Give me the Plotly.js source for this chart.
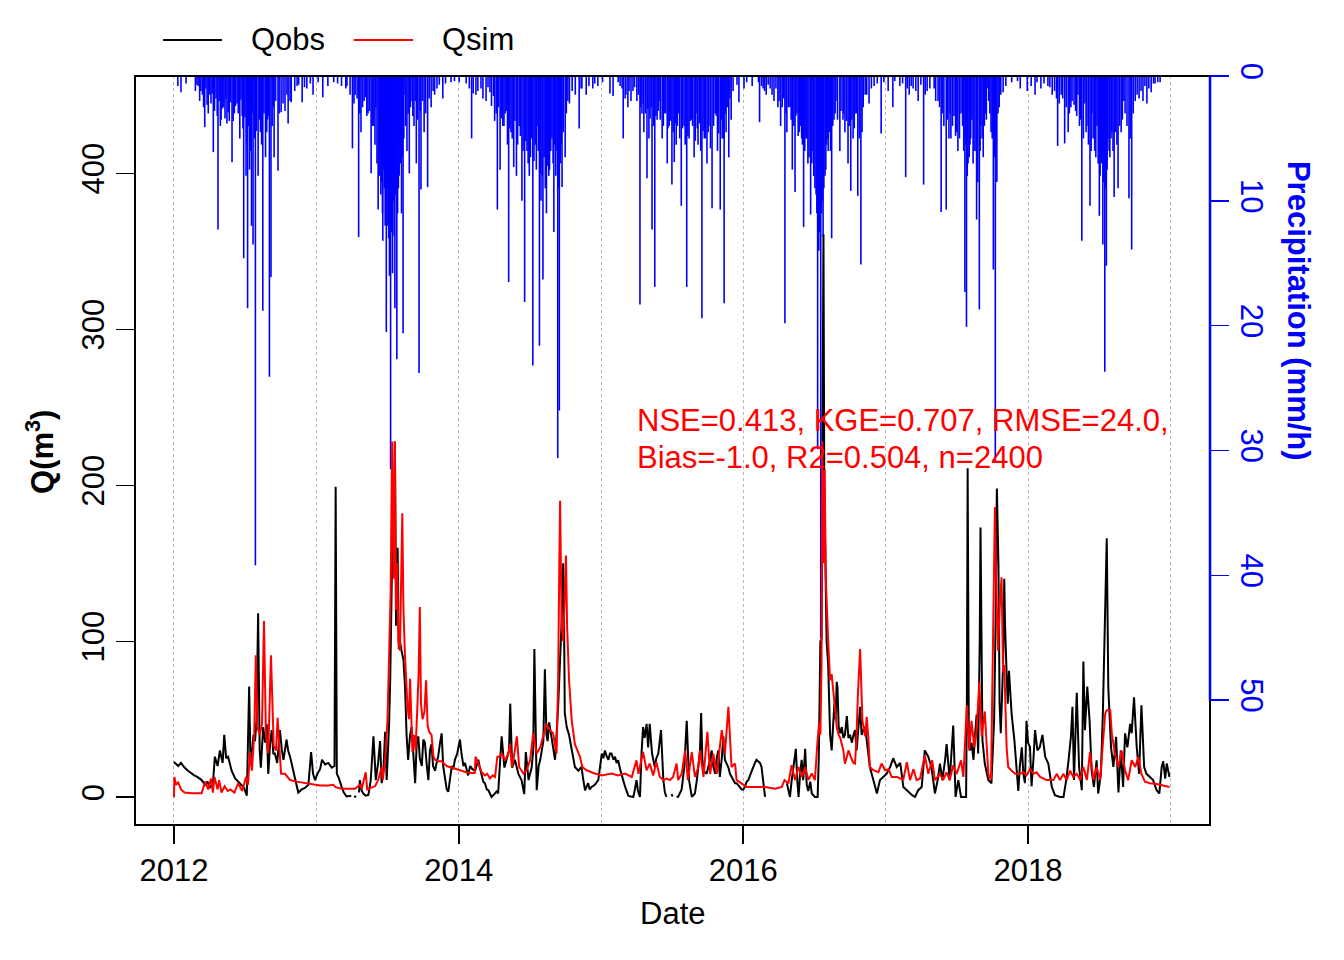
<!DOCTYPE html>
<html><head><meta charset="utf-8">
<script src="https://cdn.plot.ly/plotly-3.0.1.min.js"></script>
<style>html,body{margin:0;padding:0;background:#fff}#plot{width:1344px;height:960px}</style>
</head><body><div id="plot"></div>
<script>
// Day offsets counted from 2012-01-01 (null = gap in record)
const obsDay = [0,6,11,18,27,36,45,52,60,66,71,80,86,92,100,105,112,118,125,129,134,139,144,148,157,165,174,180,187,193,196,199,204,208,212,216,220,223,229,234,238,242,247,251,255,259,265,272,277,281,289,293,298,306,312,319,328,336,345,352,357,362,368,375,
380,388,396,405,412,415,418,422,430,436,443,450,455,null,462,468,null,475,477,482,486,492,499,505,512,518,524,529,533,538,542,546,552,555,558,561,564,567,570,574,577,580,584,589,593,597,601,606,610,615,619,623,627,631,636,640,644,649,653,657,661,665,670,674,678,683,687,691,696,700,704,709,713,717,721,727,734,738,743,747,751,755,760,766,773,777,781,786,790,794,798,803,807,811,815,822,828,
832,841,848,854,860,863,868,875,884,892,899,903,910,918,922,925,928,931,936,940,948,952,956,959,963,969,975,978,986,991,995,999,1001,1003,1008,1014,1021,1029,1038,1046,1050,1055,1063,1067,1072,1080,1089,1094,1098,1102,1106,1111,1115,1119,1123,1128,1132,1136,1140,1145,1149,1154,1158,1162,1166,1172,1179,1183,1187,1191,1196,1200,1204,1208,1213,1217,1221,1227,1234,1238,1243,1250,1253,1256,1260,1264,null,1277,1280,null,1290,1294,
1303,1310,1316,1319,1322,1329,1337,1342,1346,1350,1353,1356,1359,1367,1372,1376,1380,1384,1389,1393,1397,1401,1406,1410,1414,1418,1423,1427,1431,1436,1440,1444,1450,1457,1461,1465,1470,1474,1480,1487,1491,1495,1500,1504,1508,1512,1515,1517,null,1573,1577,1581,1585,1590,1594,1596,1600,1603,1607,1611,1615,1620,1624,1628,1633,1637,1645,1652,1655,1657,1659,1662,1665,1667,1669,1672,1675,1679,1684,1688,1692,1695,1698,1701,1703,1706,1710,1714,1718,1722,1727,1731,1735,1740,1744,
1748,1752,1757,1761,1765,1769,1774,1778,1782,1786,1795,1800,1804,1812,1821,1829,1838,1846,1855,1864,1872,1881,1889,1896,1902,1910,1919,1927,1936,1944,1953,1960,1966,1972,1979,1983,1991,2000,2006,2013,2020,2026,2033,2035,2037,2040,2043,2047,2052,2056,2060,2064,2068,2070,2073,2075,2081,2090,2098,2105,2109,2112,2116,2119,2122,2128,2131,2133,2137,2140,2143,2150,2157,2163,2167,2171,2176,2180,2184,2188,2192,2197,2201,2206,2210,2216,2222,
2229,2236,2244,2253,2261,2274,2283,2290,2296,2302,2306,2310,2317,2323,2330,2334,2338,2344,2350,2355,2361,2368,2372,2379,2384,2388,2392,2394,2398,2405,2411,2418,2424,2430,2436,2441,2447,2454,2458,2464,2471,2477,2483,2490,2496,2505,2513,2522,2529,2535,2539,2544,2548,2555];
const obsQ = [22.6,21,20,22,19,17,15,14,13,12,11,8,10,6,9,26,20,30,22,40,25,26,20,17,12,10,8,6,1,71,28,25,40,36,50,118,30,19,45,35,47,15,35,43,28,28,22,43,30,24,37,30,26,17,10,3,5,6,8,29,15,11,15,18,
24,21,22,19,20,199,15,13,7,3,0.5,1,1,null,0.3,0.5,null,3,11,4,2.4,1,1.5,11,39,11,22,36,9,20,42,11,46,75,130,171,150,228,110,160,95,100,94,88,71,40,24,40,45,20,9,35,39,25,20,37,35,20,11,30,34,20,17,22,26,35,41,20,13,5,3.5,12,20,18,24,28,37,28,20,22,17,14,20,18,17,20,24,18,13,10,9,5,4.5,2,0.2,2,3.7,
2.4,39,19,24,30,60,19,24,15,11,2,29,11,19,30,95,30,4.5,20,24,36,82,40,36,48,39,30,24,58,86,113,150,120,54,45,40,30,19.4,17,19.4,12,4.5,9,5,6.6,8,11,20,28,25,30,26,24,28,28,24,26,22,23.7,18,15,10,6.6,3,1,0.5,0.2,5,11,4,0.2,28,45,38,47,32,47,28,19.4,25,28,43,20,11,3,0.2,null,2,0.5,null,0.5,0.2,
5,20,49,25,11,0.2,2.4,11,20,30,54,25,17,15,20,24,30,20,15,25,30,13,25,39,24,22,19,15,13,10,9,9,7,5,5,6.6,10,11,15,20,22,24,23,22,19.4,11,4,0.2,null,9,5,0.2,10,19,25,31,10,0.2,15,24,11,31,8,4,10,2.4,0.2,0.2,26,60,100,101,250,361,200,150,100,85,40,30,50,60,50,74,70,45,41,45,38,40,52,38,40,35,40,
43,30,45,58,40,43,45,36.5,30,19.4,11,6,2.4,11,13,15,19.4,25,19.4,22,6.6,4.5,2.4,1,0.2,4.5,6.6,30,26,19.4,2.4,11,21.6,11,23.7,34,11,46,0.2,11,0.2,0,0.2,60,211,40,30,35,24,40,53,28,100,173,70,36.5,21.6,11,9,50,117,198,150,60,41,85,140,110,79,60,81,53,36.5,17,4,20,32,15,9,49,35,32,7,25,43,30,32,
40,25.9,21.6,6.6,1.3,0.2,0.2,11,23.7,38.7,58,11,67,19.4,4.5,87,43,71,49,17.3,6.6,23.7,2.4,15,53.6,107,140,166,70,32,19.4,38.7,3,30,6.6,41,32,47,41,64,32,15,59,19.4,15,13,11,4.5,2.4,19.4,23,12,21.6,13];

const simDay = [0,1,5,11,18,27,45,71,80,88,95,100,104,112,116,122,130,138,145,155,165,175,185,190,195,200,206,210,214,220,226,231,236,242,249,256,262,266,270,275,285,298,315,340,360,375,396,409,415,430,450,465,477,482,492,496,505,516,524,533,536,542,548,552,556,560,564,567,570,573,576,580,584,586,589,593,599,603,606,608,612,616,620,625,628,631,634,638,643,647,651,655,661,666,670,678,687,700,713,721,734,750,765,772,774,781,790,798,804,811,818,824,830,835,841,850,858,863,867,871,880,886,897,905,914,922,931,940,948,956,965,973,982,986,989,991,995,999,1003,1006,1009,1014,1021,1029,1042,1048,1059,1080,1098,1123,1140,1158,1175,1187,1192,1204,1213,1221,1230,1238,1247,1256,1264,1273,1281,1290,1294,1303,1312,1319,1329,1337,1346,1350,1359,1369,1376,1384,1393,1406,1414,1423,1431,1440,1444,1457,1470,1491,1517,1543,1560,1567,1577,1585,1594,1603,1611,1620,1628,1637,1645,1652,1656,1659,1662,1664,1667,1670,1673,1679,1684,1688,1695,1701,1706,1710,1718,1722,1727,1731,1740,1744,1748,1752,1755,1758,1761,1767,1774,1778,1782,1786,1795,1808,1816,1825,1834,1842,1855,1864,1872,1881,1889,1898,1906,1915,1927,1936,1946,1953,1966,1974,1983,1991,2000,2009,2020,2026,2035,2041,2047,2054,2060,2067,2073,2081,2090,2097,2100,2104,2107,2111,2115,2119,2124,2128,2131,2137,2141,2150,2159,2171,2180,2188,2197,2206,2214,2223,2240,2257,2266,2274,2283,2291,2300,2308,2317,2326,2334,2343,2351,2360,2368,2377,2385,2390,2394,2403,2407,2415,2424,2432,2441,2449,2458,2467,2475,2483,2492,2505,2522,2539,2555];
const simQ = [0,13,8,9.5,5,3,2.5,2.5,10,5,12,3,13,5,11,3,7,4,5,3,9,4,13,8,29,17,40,91,45,40,47,113,40,28,91,33,30,51,34,15,15,11,10,9,8,7.5,7.5,8,6.5,5.5,5.5,5.5,8,5.5,16,5,6,7,11,19.4,11,23.7,49,95,130,228,140,228,120,150,100,94,140,182,120,90,60,50,76,55,29,40,30,60,80,122,60,50,55,75,46,42,40,26,24,23,23,20,19,18,17.5,16,15.6,15.6,26,21.6,16,14,15,12,14,13,26,26,28,23.7,28,34,19.4,23.7,39,19.4,15.2,17.3,23.7,41,28,32,39,47,43,41,28,75,150,190,110,100,130,155,110,75,49,34,26,19.4,17.3,15.2,14,15.2,14,15.2,13,23.7,15,29,17.3,21.6,14,22.5,13,11,12,11,13,21.6,11,15,30,11,29,13,19.4,30,13,42,15,28,15,43,28,58,19.4,21.6,11,8.8,6.6,6.6,6.6,5.5,6.6,11,8.8,20.5,11,19.4,13,19.4,11,15.2,11,37,48,40,85,228,150,210,140,100,75,79,58,45,40,38,30,21.5,26,30,24,22,21.6,40,64,80,95,49,39,51.5,38.7,19.4,17.3,16,21.6,17.3,18,13,13,12,11.5,22.5,11,18,11,12,27,15,23.7,11,15,11,16,11,20.5,15,23.7,13,59,30,49,32,43,74,39,55,15,11,70,120,186,130,94,120,141,80,85,32,19.4,17,15,15,16,14,18,15,16,13,11,11,15,11,15,11,17,13,15,11,19.4,11,29,11,19.4,11,40.8,53.6,55.8,55.8,40.8,28,19.4,30,17.3,11,23.7,19.4,25.9,15,10,9,8.5,7.5,6.6];

// Precipitation (mm/h): main visible bars
const rainDay = [10,18,31,59,69,79,85,92,101,108,113,121,128,136,142,149,155,162,169,175,179,185,189,194,199,203,209,216,222,228,235,240,245,249,257,267,275,285,293,301,316,329,341,357,382,
430,441,458,465,474,480,488,498,506,513,518,524,529,533,536,540,545,549,553,556,561,567,572,576,580,584,588,593,598,604,611,616,622,629,634,642,651,660,669,690,711,732,
764,775,788,801,811,823,830,837,844,850,859,865,872,879,886,893,900,906,912,921,927,932,938,942,947,956,964,970,975,980,985,989,992,996,1004,1011,1022,1040,1047,1058,1075,1088,1119,1127,
1145,1153,1160,1165,1173,1178,1196,1201,1206,1214,1219,1227,1234,1240,1245,1253,1258,1266,1271,1278,1284,1289,1294,1302,1309,1316,1322,1328,1335,1340,1345,1355,1361,1368,1373,1381,1389,1395,1402,1407,1412,1417,1424,1430,1450,1463,1484,
1503,1512,1520,1530,1540,1550,1557,1568,1573,1581,1587,1594,1599,1605,1611,1616,1622,1627,1634,1640,1645,1652,1655,1660,1666,1671,1675,1679,1688,1694,1699,1709,1717,1722,1730,1737,1743,1748,1755,1763,1766,1774,1784,1797,1815,1833,1845,
1863,1878,1887,1897,1910,1924,1933,1951,1961,1969,1982,1989,1994,2006,2012,2020,2030,2034,2038,2043,2048,2053,2060,2067,2071,2077,2082,2087,2091,2097,2103,2108,2112,2118,2128,2172,2190,
2200,2210,2225,2243,2254,2268,2277,2286,2295,2302,2310,2320,2330,2338,2343,2351,2356,2363,2369,2375,2379,2384,2389,2393,2397,2402,2407,2413,2423,2431,2438,2451,2458,2467,2477,2487,2497,2508,2518,2531];
const rainMm = [0.8,1.3,0.6,0.7,1.2,4.1,2.3,1.5,6.1,1.8,12.3,3.5,2.5,3.8,3.6,6.9,3.0,2.2,5.0,3.2,14.6,8.0,18.6,7.5,12,13.5,39.2,8,4.5,18.8,6.5,3.5,24.1,16.1,6.5,7.6,2.9,2.8,3.8,2.1,0.8,2.1,1.0,1.5,1.7,
0.8,1.0,5.8,1.5,12.9,4.5,2.0,3.0,7.8,4.0,2.5,10.7,6.0,8.5,13.2,9.0,20.5,12.0,16.0,31.5,15.8,18.6,22.7,9.0,5.0,11.0,20.6,1.5,6.0,7.8,2.0,4.0,7.0,23.8,9.1,4.5,8.9,2.5,1.5,1.8,0.5,0.5,
5.0,1.5,1.0,2.0,1.3,3.6,10.7,7.5,4.0,3.0,16.5,4.5,7.3,8.0,4.0,10.0,18.1,6.0,8.0,23.2,5.5,4.0,21.6,10,16.3,11,7.5,5.0,12.5,8.0,30.6,26.8,7,8.9,6.5,2.0,1.2,4.2,1.0,1.5,1.0,0.8,1.4,1.6,
0.8,5.0,1.5,2.5,2.0,1.2,18.3,3.0,4.5,8.2,5.0,12.3,16.9,3.5,2.0,5.0,3.0,7.0,4.0,8.7,6.9,5.5,3.0,10.4,4.0,16.9,5.0,3.5,6.5,3.0,5.5,19.4,5.0,7.0,4.0,10.6,3.0,6.0,10.7,5.0,18.2,4.5,6.5,3.5,2.1,1.0,0.8,
3.7,1.0,1.5,1.0,2.0,2.5,4.0,19.8,4.5,2.5,7.5,9.3,3.0,4.5,5.0,12.1,5.0,7.0,11.1,6.0,9.0,29.9,14.0,45.0,12.9,8.0,5.5,6.0,13.0,3.5,2.0,6.0,3.5,4.5,7.0,9.2,5.0,3.0,9.6,15.1,4.5,1.5,2.2,0.8,4.6,1.2,2.5,
0.8,8.1,1.5,1.0,2.0,8.7,1.2,1.0,2.0,10.9,10.7,5.0,5.0,4.8,6.0,3.0,17.3,20.1,7.0,5.5,3.5,6.0,11.5,18.7,4.0,6.5,3.0,1.0,2.0,4.5,15.5,31.0,8.5,2.5,1.3,1.0,1.2,
0.8,1.5,1.0,0.8,1.5,5.6,1.5,5.4,4.5,2.5,2.3,1.5,13.2,2.2,4.0,10.4,3.0,6.0,4.0,11.2,6.5,13.5,23.7,15.2,5.0,6.5,4.5,9.7,9.0,4.5,2.0,9.8,13.9,2.0,1.8,2.0,2.2,1.3,0.6,0.5];

// Precipitation (mm/h): dense smaller bars in the wet seasons
const rainFillDay = [55,62,66,73,76,82,88,95,98,104,111,116,119,124,131,133,139,145,152,158,165,172,177,182,187,191,197,201,206,212,219,225,231,238,243,252,255,261,270,280,290,298,310,320,335,350,370,395,410,420,
444,452,462,470,477,484,492,495,502,509,516,521,527,531,535,538,542,544,547,551,555,558,563,565,569,574,578,582,586,590,595,601,607,613,619,625,632,638,646,655,665,675,681,697,720,
750,758,768,780,793,806,815,820,827,833,840,847,853,856,862,868,875,882,889,896,903,909,915,918,924,930,935,940,945,950,953,959,962,967,973,977,983,987,994,999,1007,1015,1030,1045,1065,1080,1100,
1140,1150,1158,1168,1182,1188,1192,1198,1204,1210,1216,1222,1225,1231,1237,1243,1248,1256,1262,1268,1275,1281,1287,1292,1298,1305,1312,1319,1325,1331,1338,1343,1349,1352,1358,1364,1371,1377,1385,1392,1398,1405,1410,1415,1420,1427,1435,1445,1470,
1500,1508,1516,1525,1535,1545,1553,1561,1565,1571,1577,1584,1591,1596,1602,1608,1613,1619,1624,1630,1637,1642,1648,1650,1653,1657,1662,1664,1668,1673,1677,1682,1685,1691,1697,1703,1712,1719,1726,1733,1740,1746,1751,1759,1769,1778,1790,1805,1822,
1850,1870,1882,1892,1904,1917,1928,1940,1955,1965,1972,1976,1985,1992,1998,2002,2009,2016,2024,2027,2032,2036,2041,2045,2051,2056,2063,2069,2074,2080,2085,2094,2100,2106,2110,2115,2122,2135,2150,2165,
2215,2233,2248,2260,2265,2272,2281,2290,2298,2305,2314,2317,2324,2327,2334,2341,2347,2354,2359,2366,2372,2377,2381,2386,2391,2395,2400,2405,2410,2416,2420,2427,2434,2441,2446,2454,2462,2472,2482,2492,2502,2514,2525];
const rainFillMm = [1.2,0.8,2.0,1.5,2.5,1.0,3.0,2.2,1.4,2.8,3.2,2.0,4.0,2.6,3.4,1.8,2.9,2.1,3.6,2.4,3.0,1.9,4.2,3.3,5.5,4.0,6.0,3.0,5.0,4.4,3.5,5.5,3.0,4.5,3.2,4.0,2.5,2.0,3.0,2.2,1.5,2.0,1.2,0.7,0.9,0.6,0.5,0.8,0.5,0.6,
0.8,1.5,2.2,1.8,3.0,2.5,1.7,3.2,2.8,4.0,5.5,7.0,8.0,9.5,11.0,7.5,12.0,10.0,9.0,13.0,11.5,12.5,10.0,12.8,9.5,11.0,8.0,7.0,6.5,5.0,4.0,3.0,2.5,3.2,2.0,3.5,2.8,2.0,3.0,1.8,1.2,1.0,0.7,0.6,0.4,
0.6,1.0,1.4,1.2,1.8,0.9,2.4,1.6,3.0,2.5,3.4,4.0,2.8,5.5,4.2,5.0,3.6,5.5,4.8,6.0,5.2,7.0,6.5,5.0,6.8,7.5,6.0,7.8,8.0,6.5,9.0,7.2,8.0,6.0,7.0,5.5,6.0,9.0,5.5,4.5,3.0,2.2,1.5,1.0,0.8,0.6,0.5,
0.5,1.0,1.8,1.2,0.9,2.0,1.5,2.5,2.2,3.0,2.6,3.4,2.5,4.0,3.2,2.8,3.5,4.0,3.0,4.2,3.6,4.5,3.8,4.0,5.0,4.2,5.5,4.8,3.6,4.0,5.2,4.2,3.8,6.0,4.4,5.0,4.5,5.8,4.0,3.2,4.6,3.5,5.0,3.0,2.5,1.8,1.2,0.7,0.5,
0.5,0.8,1.2,0.7,1.5,1.0,2.0,2.5,1.8,3.0,2.5,3.5,4.0,3.2,4.8,4.0,5.5,6.0,5.0,6.5,7.0,8.0,9.5,11.0,12.0,12.5,11.0,10.0,9.0,7.5,5.0,4.5,6.0,4.0,3.0,3.5,2.8,3.0,3.6,4.0,3.5,4.2,3.0,5.0,2.5,1.5,1.0,0.6,0.5,
0.4,0.6,1.0,0.8,1.2,0.7,1.5,1.0,2.0,2.5,3.0,4.0,3.5,3.0,4.0,3.2,4.5,5.0,4.0,6.0,5.5,8.0,6.5,5.0,7.0,6.0,8.5,6.0,5.0,4.0,3.5,3.0,5.0,6.5,5.5,3.0,1.5,0.8,0.5,0.4,
0.5,0.6,0.9,1.2,1.8,2.2,1.8,2.5,3.0,2.0,2.8,3.2,4.0,3.5,5.0,4.5,5.5,6.0,5.0,6.5,7.0,8.0,7.0,8.5,9.0,7.5,6.0,5.0,6.0,4.5,5.5,4.0,3.5,3.0,4.0,5.0,3.0,1.5,1.2,0.8,1.0,0.6,0.5];

const xTickVals = ['2012-01-01','2014-01-01','2016-01-01','2018-01-01'];
const xTickText = ['2012','2014','2016','2018'];
const qTickVals = [0,100,200,300,400];
const pTickVals = [0,10,20,30,40,50];
const seriesNames = ['Qobs','Qsim'];
const seriesColors = ['#000000','#FF0000'];
const statsLine1 = 'NSE=0.413, KGE=0.707, RMSE=24.0,';
const statsLine2 = 'Bias=-1.0, R2=0.504, n=2400';

const day0 = Date.UTC(2012,0,1);
function toDate(d){ return d === null ? null : new Date(day0 + d*86400000).toISOString().slice(0,10); }

// build vertical "h"-type bars for precipitation
const allRainDay = rainDay.concat(rainFillDay);
const allRainMm = rainMm.concat(rainFillMm);
const px = [], py = [];
allRainDay.forEach((d,i) => { const t = toDate(d); px.push(t,t,null); py.push(0, allRainMm[i], null); });

const FONT = 'Liberation Sans, Arial, Helvetica, sans-serif';
const traces = [
  {x: px, y: py, type:'scatter', mode:'lines', yaxis:'y', line:{color:'#0000FF', width:1.6}, showlegend:false, hoverinfo:'skip', connectgaps:false, name:'Precipitation'},
  {x: obsDay.map(toDate), y: obsQ, type:'scatter', mode:'lines', yaxis:'y2', name:seriesNames[0], line:{color:seriesColors[0], width:2}, connectgaps:false, showlegend:false},
  {x: simDay.map(toDate), y: simQ, type:'scatter', mode:'lines', yaxis:'y2', name:seriesNames[1], line:{color:seriesColors[1], width:2}, showlegend:false}
];

// legend drawn R-style above the plot (line sample + label for each series)
const legY = 1.0481;
const legShapes = [
  {type:'line', xref:'paper', yref:'paper', x0:0.0260, x1:0.0809, y0:legY, y1:legY, line:{color:seriesColors[0], width:2}},
  {type:'line', xref:'paper', yref:'paper', x0:0.2037, x1:0.2586, y0:legY, y1:legY, line:{color:seriesColors[1], width:2}}
];
const legAnn = [
  {text:seriesNames[0], xref:'paper', yref:'paper', x:0.1060, y:legY, xanchor:'left', yanchor:'middle', showarrow:false, font:{size:31, color:'#000'}},
  {text:seriesNames[1], xref:'paper', yref:'paper', x:0.2837, y:legY, xanchor:'left', yanchor:'middle', showarrow:false, font:{size:31, color:'#000'}}
];

const layout = {
  width:1344, height:960,
  margin:{l:135, r:134, t:76, b:135},
  paper_bgcolor:'#ffffff', plot_bgcolor:'#ffffff',
  font:{family:FONT, size:31, color:'#000'},
  showlegend:false,
  xaxis:{type:'date', range:['2011-09-23','2019-04-13'], tickvals:xTickVals, ticktext:xTickText,
    ticks:'outside', ticklen:18, tickwidth:1.5, tickcolor:'#000', showline:false, zeroline:false,
    showgrid:true, gridcolor:'#b8b8b8', griddash:'dot', gridwidth:1,
    minor:{dtick:'M12', tick0:'2012-01-01', showgrid:true, gridcolor:'#b8b8b8', griddash:'dot', gridwidth:1, ticks:''},
    tickfont:{size:31}},
  yaxis:{range:[60,0], side:'right', tickvals:pTickVals, tickangle:90, ticks:'outside', ticklen:18, tickwidth:1.5,
    tickcolor:'#0000FF', tickfont:{color:'#0000FF', size:31}, showline:false, showgrid:false, zeroline:false},
  yaxis2:{overlaying:'y', side:'left', range:[-17.8, 462.4], tickvals:qTickVals, tickangle:-90, ticks:'outside', ticklen:18, tickwidth:1.5,
    tickcolor:'#000', tickfont:{size:31}, showline:false, showgrid:false, zeroline:false},
  shapes:[
    {type:'rect', xref:'paper', yref:'paper', x0:0, x1:1, y0:0, y1:1, line:{color:'#000', width:2}, fillcolor:'rgba(0,0,0,0)'},
    {type:'line', xref:'paper', yref:'y', x0:1, x1:1, y0:0, y1:50, line:{color:'#0000FF', width:2.5}}
  ].concat(legShapes),
  annotations:[
    {text:'<b>Q(m<sup>3</sup>)</b>', xref:'paper', yref:'paper', x:-0.0884, y:0.498, textangle:-90, showarrow:false, font:{size:31, color:'#000'}, xanchor:'center', yanchor:'middle'},
    {text:'<b>Precipitation (mm/h)</b>', xref:'paper', yref:'paper', x:1.0819, y:0.6863, textangle:90, showarrow:false, font:{size:31, color:'#0000FF'}, xanchor:'center', yanchor:'middle'},
    {text:'Date', xref:'paper', yref:'paper', x:0.5, y:-0.1175, showarrow:false, font:{size:31}, xanchor:'center', yanchor:'middle'},
    {text:statsLine1, xref:'paper', yref:'paper', x:0.4655, y:0.5407, showarrow:false, font:{size:31, color:'#FF0000'}, xanchor:'left', yanchor:'middle'},
    {text:statsLine2, xref:'paper', yref:'paper', x:0.4655, y:0.4913, showarrow:false, font:{size:31, color:'#FF0000'}, xanchor:'left', yanchor:'middle'}
  ].concat(legAnn)
};

Plotly.newPlot('plot', traces, layout, {staticPlot:true, displayModeBar:false});
</script>
</body></html>
